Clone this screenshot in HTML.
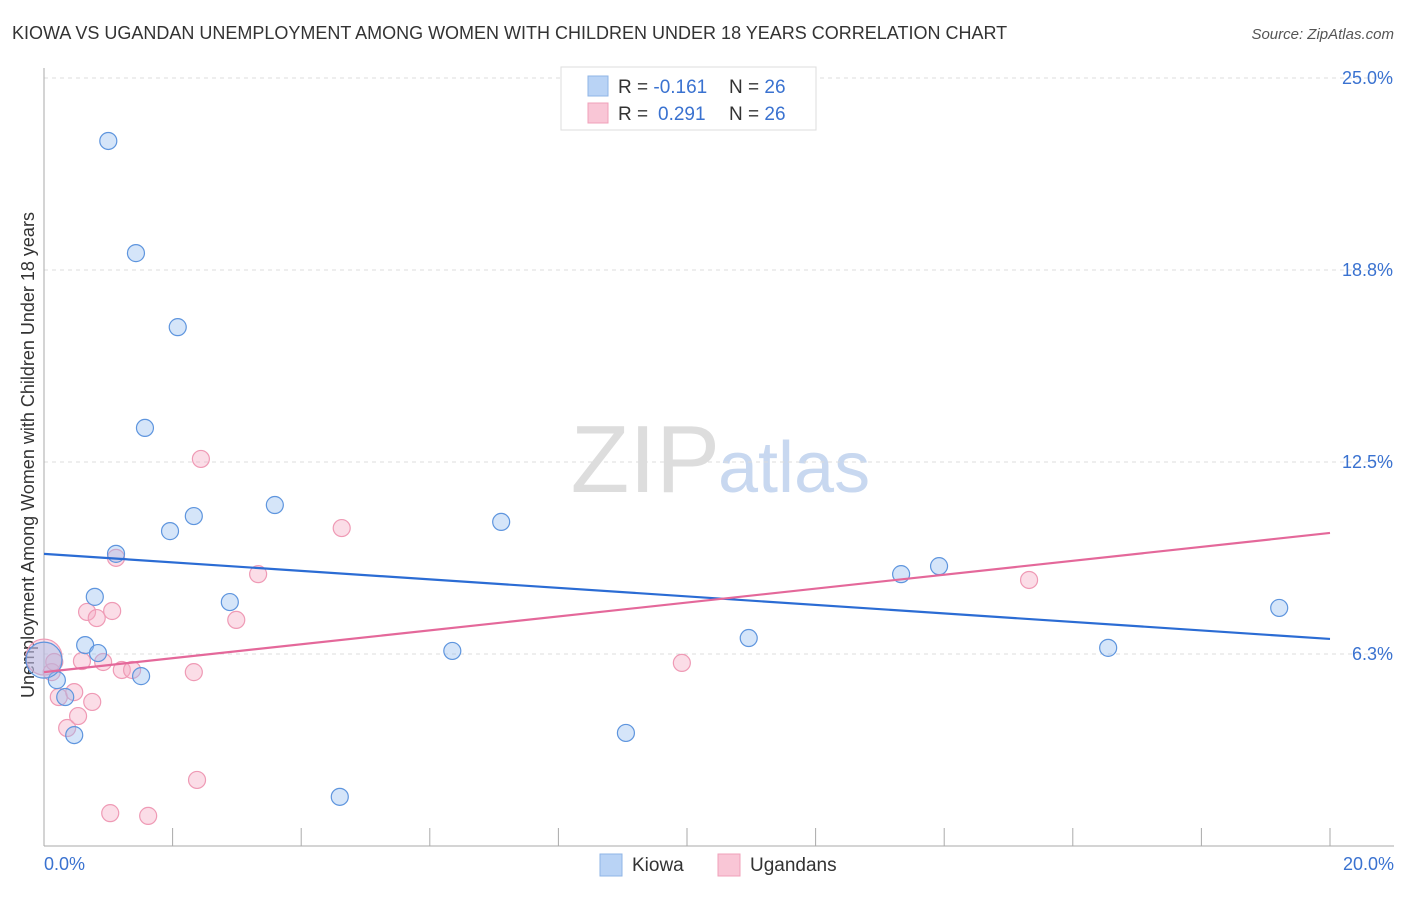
<!DOCTYPE html>
<html><head><meta charset="utf-8"><style>
body{margin:0;background:#fff;font-family:"Liberation Sans",sans-serif;}
svg text{font-family:"Liberation Sans",sans-serif;}
</style></head><body>
<svg id="c" width="1406" height="892">
<text x="12" y="39" font-size="18" fill="#333">KIOWA VS UGANDAN UNEMPLOYMENT AMONG WOMEN WITH CHILDREN UNDER 18 YEARS CORRELATION CHART</text>
<text x="1394" y="39" font-size="15" fill="#555" font-style="italic" text-anchor="end">Source: ZipAtlas.com</text>
<text x="720" y="492" font-size="96" fill="#ddd" text-anchor="end" font-family="Liberation Serif">ZIP</text>
<text x="718" y="492" font-size="72" fill="#c8d8f0">atlas</text>
<text transform="translate(34,455) rotate(-90)" font-size="18" fill="#333" text-anchor="middle">Unemployment Among Women with Children Under 18 years</text>
<g id="grid"></g><g id="pts"></g><g id="lines"></g>
<g>
<rect x="561" y="67" width="255" height="63" fill="#fff" stroke="#ddd"/>
<rect x="588" y="76" width="20" height="20" fill="#b9d3f5" stroke="#8fb4e6"/>
<rect x="588" y="103" width="20" height="20" fill="#f9c6d6" stroke="#f0a0ba"/>
<text x="618" y="93" font-size="19" fill="#333">R = <tspan fill="#3a72d0">-0.161</tspan><tspan x="729">N = </tspan><tspan fill="#3a72d0">26</tspan></text>
<text x="618" y="120" font-size="19" fill="#333">R = <tspan fill="#3a72d0" x="658">0.291</tspan><tspan x="729">N = </tspan><tspan fill="#3a72d0">26</tspan></text>
</g>
<g>
<rect x="600" y="854" width="22" height="22" fill="#b9d3f5" stroke="#8fb4e6"/>
<text x="632" y="871" font-size="19" fill="#333">Kiowa</text>
<rect x="718" y="854" width="22" height="22" fill="#f9c6d6" stroke="#f0a0ba"/>
<text x="750" y="871" font-size="19" fill="#333">Ugandans</text>
</g>
</svg>
<script>
const yTicks=[6.25,12.5,18.75,25];
const yTickLabels=["6.3%","12.5%","18.8%","25.0%"];
const xTickLabels=["0.0%","20.0%"];
const kiowaX=[1.00,1.43,2.08,1.57,1.96,2.33,3.59,1.12,0.79,2.89,0.64,0.84,1.51,0.20,0.33,0.47,0.0,4.60,6.35,7.11,9.05,10.96,13.33,13.92,16.55,19.21];
const kiowaY=[22.95,19.30,16.89,13.61,10.25,10.74,11.10,9.51,8.11,7.94,6.54,6.28,5.53,5.40,4.85,3.61,6.05,1.60,6.35,10.55,3.68,6.77,8.85,9.11,6.45,7.75];
const ugX=[0,0.12,0.23,0.36,0.47,0.53,0.59,0.67,0.82,1.06,0.92,1.12,1.21,1.37,0.75,2.33,2.44,2.38,1.03,1.62,3.33,2.99,4.63,9.92,15.32,0.16];
const ugY=[6.15,5.66,4.85,3.84,5.01,4.23,6.02,7.62,7.42,7.65,5.99,9.38,5.73,5.73,4.69,5.66,12.60,2.15,1.07,0.98,8.85,7.36,10.35,5.96,8.66,5.99];
const kiowaTrend=[9.51,6.74];
const ugTrend=[5.66,10.19];
const NS="http://www.w3.org/2000/svg";
const X=v=>44+v/20*1286, Y=v=>846-v/6.25*192;
function mk(p,t,a){const e=document.createElementNS(NS,t);for(const k in a)e.setAttribute(k,a[k]);p.appendChild(e);return e;}
const g=document.getElementById('grid');
yTicks.forEach((t,i)=>{
 const l=mk(g,'line',{x1:44,x2:1394,y1:Y(t),y2:Y(t),stroke:'#ddd','stroke-dasharray':'4,4'});
 
 
 const tx=mk(g,'text',{x:1393,y:Y(t)+6,'font-size':18,fill:'#3a72d0','text-anchor':'end'});
 tx.textContent=yTickLabels[i];
 
 
});
mk(g,'line',{x1:44,x2:44,y1:68,y2:846,stroke:'#aaa'});
mk(g,'line',{x1:44,x2:1394,y1:846,y2:846,stroke:'#aaa'});
for(let i=1;i<=10;i++){const x=X(i*2);const t=mk(g,'line',{x1:x,x2:x,y1:828,y2:846,stroke:'#aaa'});
 
 }
[[0,'start',44],[20,'end',1394]].forEach((d,i)=>{const t=mk(g,'text',{x:d[2],y:870,'font-size':18,fill:'#3a72d0','text-anchor':d[1]});t.textContent=xTickLabels[i];
 
 });
const p=document.getElementById('pts');
function pts(xs,ys,fill,stroke,name){xs.forEach((x,i)=>{const r=x===0?18:8.5;
 const c=mk(p,'circle',{cx:X(x),cy:Y(ys[i]),r:r,fill:fill,stroke:stroke,'stroke-width':1.2});
 
 });}
pts(ugX,ugY,'rgba(246,170,195,0.4)','#ef9ab5','ugandans-point');
pts(kiowaX,kiowaY,'rgba(150,190,240,0.4)','#5e95de','kiowa-point');
const L=document.getElementById('lines');
const a=mk(L,'line',{x1:X(0),x2:X(20),y1:Y(kiowaTrend[0]),y2:Y(kiowaTrend[1]),stroke:'#2b6cd4','stroke-width':2.2});


const b=mk(L,'line',{x1:X(0),x2:X(20),y1:Y(ugTrend[0]),y2:Y(ugTrend[1]),stroke:'#e4689a','stroke-width':2.2});


</script>
</body></html>
